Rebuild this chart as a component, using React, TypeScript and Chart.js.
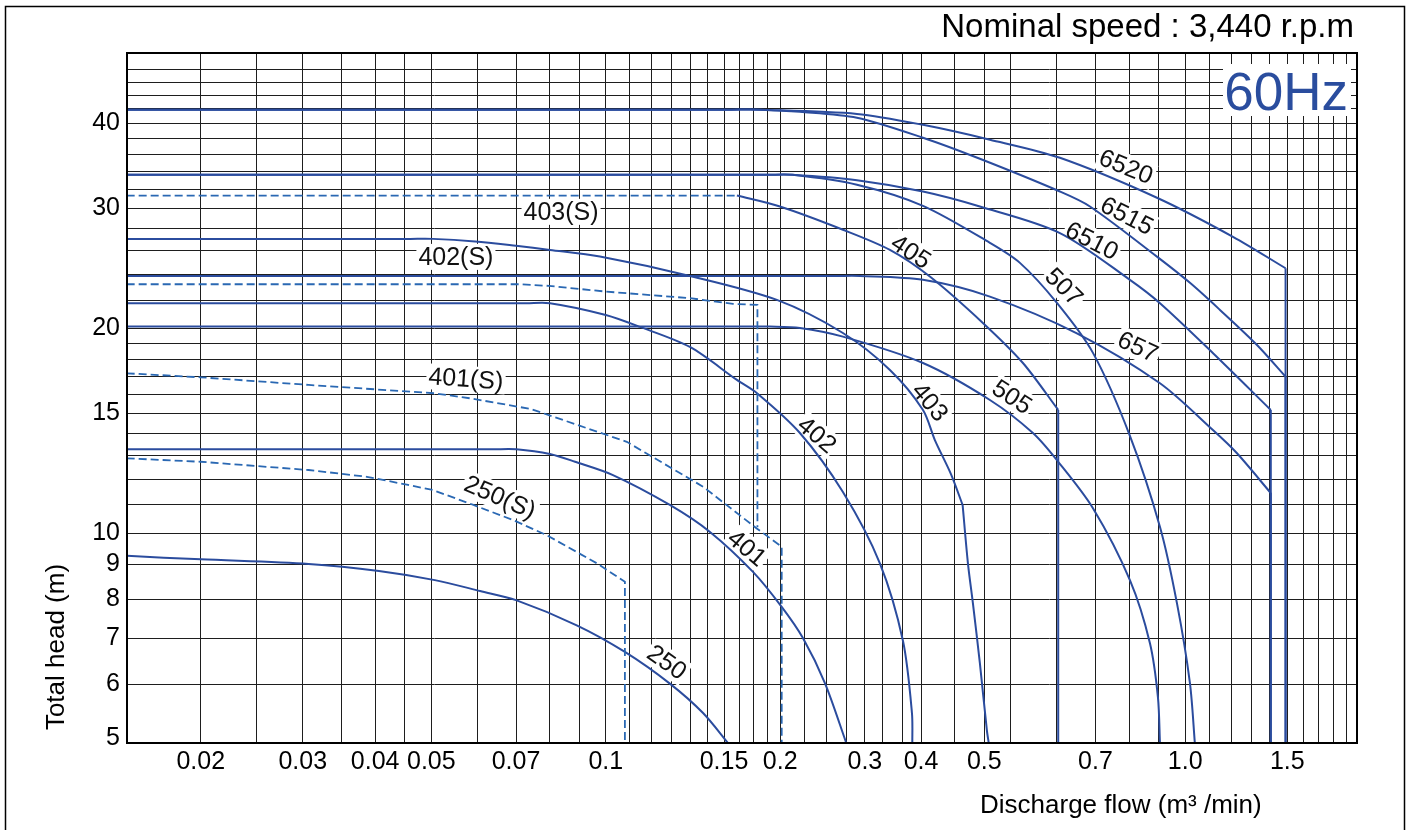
import { useEffect, useRef } from 'react';
import { Chart, registerables } from 'chart.js';

Chart.register(...registerables);

type Pt = [number, number];

// ---- axes (flow in m3/min, head in m) ----
const xMin = 0.01492;
const xMax = 1.979;
const yMin = 4.916;
const yMax = 50.75;

const xGridValues = [
  0.02, 0.025, 0.03, 0.035, 0.04, 0.045, 0.05, 0.06, 0.07, 0.08, 0.09,
  0.1, 0.11, 0.12, 0.13, 0.14, 0.15, 0.16, 0.17, 0.18, 0.19,
  0.2, 0.22, 0.24, 0.26, 0.28, 0.3, 0.325, 0.35, 0.4, 0.45, 0.5, 0.6, 0.7, 0.8, 0.9,
  1.0, 1.1, 1.2, 1.3, 1.4, 1.5, 1.6, 1.7, 1.8, 1.9,
];
// tick label texts, placed on the grid lines where the reference prints them
const xTickLabelAt = [0.02, 0.03, 0.04, 0.05, 0.07, 0.1, 0.16, 0.2, 0.28, 0.35, 0.45, 0.7, 1.0, 1.5];
const xTickLabelText = ['0.02', '0.03', '0.04', '0.05', '0.07', '0.1', '0.15', '0.2', '0.3', '0.4', '0.5', '0.7', '1.0', '1.5'];

const yGridValues = [
  5, 6, 7, 8, 9, 10, 11, 12, 13, 14, 15, 16, 17, 18, 19, 20,
  22, 24, 26, 28, 30, 32, 34, 36, 38, 40, 42, 44, 46, 48,
];
const yTickLabelAt = [5, 6, 7, 8, 9, 10, 15, 20, 30, 40];

// ---- pump curves (solid) ----
const c6520: Pt[] = [[0.0149, 41.9], [0.1651, 41.9], [0.1845, 41.9], [0.2713, 41.3], [0.3527, 39.8], [0.4602, 37.85], [0.6078, 35.6], [0.8937, 31.1], [1.209, 27.25], [1.49, 24.5]];
const c6520Drop: Pt[] = [[1.49, 24.5], [1.49, 4.9]];
const c6515: Pt[] = [[0.0149, 41.9], [0.1651, 41.9], [0.1845, 41.9], [0.2163, 41.6], [0.2713, 40.77], [0.3527, 38.1], [0.4422, 35.48], [0.6078, 31.76], [0.6849, 30.19], [0.8937, 25.48], [1.019, 23.32], [1.148, 21.28], [1.33, 18.9], [1.49, 16.98]];
const c6515Drop: Pt[] = [[1.49, 16.98], [1.49, 4.9]];
const c6510: Pt[] = [[0.0149, 33.61], [0.19, 33.61], [0.21, 33.61], [0.2713, 33.0], [0.3527, 31.76], [0.4422, 30.19], [0.6078, 27.6], [0.8027, 23.56], [0.9046, 21.77], [1.117, 18.38], [1.405, 15.17]];
const c6510Drop: Pt[] = [[1.405, 15.17], [1.405, 4.9]];
const c507: Pt[] = [[0.0149, 33.61], [0.19, 33.61], [0.21, 33.61], [0.2713, 32.5], [0.3527, 30.26], [0.4602, 26.7], [0.5185, 24.95], [0.6006, 21.79], [0.6931, 18.4], [0.8027, 13.9], [0.9046, 10.21], [0.9676, 7.89], [1.0189, 6.02], [1.0393, 4.9]];
const c657: Pt[] = [[0.0149, 23.87], [0.2495, 23.87], [0.2746, 23.87], [0.3527, 23.56], [0.4602, 22.26], [0.6502, 19.66], [0.9046, 16.6], [1.1163, 14.17], [1.2284, 13.1], [1.405, 11.45]];
const c657Drop: Pt[] = [[1.405, 11.45], [1.405, 4.9]];
const c405: Pt[] = [[0.1684, 31.33], [0.1998, 30.19], [0.2566, 27.91], [0.3093, 26.07], [0.3625, 23.82], [0.4475, 20.36], [0.5247, 17.78], [0.6037, 15.17]];
const c405Drop: Pt[] = [[0.6037, 15.17], [0.6037, 4.9]];
const c505: Pt[] = [[0.0149, 20.11], [0.175, 20.11], [0.192, 20.11], [0.2163, 20.02], [0.2566, 19.44], [0.3527, 17.78], [0.4602, 15.69], [0.546, 14.03], [0.6037, 12.73], [0.6931, 10.88], [0.8027, 8.53], [0.8692, 6.89], [0.8972, 5.74], [0.9046, 4.9]];
const c403Upper: Pt[] = [[0.0149, 27.06], [0.046, 27.06], [0.0503, 27.06], [0.0595, 26.82], [0.07, 26.43], [0.0801, 26.07], [0.0977, 25.49], [0.1397, 23.87], [0.1974, 22.01], [0.2566, 19.68], [0.3093, 17.37], [0.3527, 15.17], [0.3698, 13.7], [0.3942, 12.21], [0.4129, 11.0]];
const c403Lower: Pt[] = [[0.4129, 11.0], [0.4217, 9.03], [0.4301, 7.89], [0.4422, 6.44], [0.4547, 5.13], [0.4583, 4.9]];
const c402: Pt[] = [[0.0149, 21.77], [0.073, 21.77], [0.0801, 21.77], [0.1, 20.92], [0.1146, 20.09], [0.1397, 18.77], [0.1684, 16.79], [0.1824, 16.05], [0.2163, 14.03], [0.2566, 11.49], [0.2972, 9.03], [0.3258, 6.94], [0.3376, 5.44], [0.3381, 4.9]];
const c401: Pt[] = [[0.0149, 13.28], [0.064, 13.28], [0.0701, 13.28], [0.0801, 13.07], [0.0885, 12.73], [0.1029, 12.17], [0.129, 11.0], [0.1513, 10.04], [0.1795, 8.77], [0.2012, 7.79], [0.2189, 7.01], [0.2389, 6.02], [0.2604, 4.9]];
const c250: Pt[] = [[0.0149, 9.26], [0.02, 9.15], [0.0307, 9.01], [0.0406, 8.8], [0.0507, 8.53], [0.0607, 8.22], [0.07, 7.97], [0.0891, 7.32], [0.1079, 6.69], [0.129, 6.01], [0.1472, 5.44], [0.163, 4.9]];

// ---- (S) curves (dashed) ----
const c403S: Pt[] = [[0.0149, 31.33], [0.1684, 31.33]];
const c402S: Pt[] = [[0.0149, 23.21], [0.071, 23.21], [0.0798, 23.08], [0.1, 22.64], [0.1397, 22.14], [0.1658, 21.72], [0.1827, 21.64], [0.1827, 10.2]];
const c401S: Pt[] = [[0.0149, 17.17], [0.02, 16.94], [0.0307, 16.51], [0.0506, 16.05], [0.0583, 15.78], [0.0742, 15.22], [0.1087, 13.62], [0.1472, 11.7], [0.1822, 10.16], [0.2012, 9.55], [0.2012, 4.9]];
const c250S: Pt[] = [[0.0149, 12.88], [0.02, 12.73], [0.0307, 12.38], [0.0387, 12.1], [0.0456, 11.77], [0.0503, 11.57], [0.0591, 11.0], [0.0692, 10.45], [0.0791, 9.93], [0.0965, 9.03], [0.1079, 8.48], [0.1079, 4.9]];

// ---- curve name labels (anchor in data units) ----
const curveLabelText = ['6520', '6515', '6510', '405', '507', '657', '403', '505', '402', '401', '250', '403(S)', '402(S)', '401(S)', '250(S)'];
const curveLabelQ = [0.7902, 0.7933, 0.6902, 0.3362, 0.6175, 0.8286, 0.3625, 0.5024, 0.2314, 0.1752, 0.1275, 0.08372, 0.05513, 0.05736, 0.06569];
const curveLabelH = [34.53, 29.25, 26.88, 25.9, 23.0, 18.77, 15.58, 15.85, 13.94, 9.505, 6.46, 29.65, 25.46, 16.85, 11.29];

// styles
const labelAngle: Record<string, number> = {
  '6520': 22, '6515': 27, '6510': 27, '405': 33, '507': 45, '657': 25, '403': 50,
  '505': 33, '402': 40, '401': 40, '250': 35, '403(S)': 0, '402(S)': 0, '401(S)': 4, '250(S)': 23,
};
const SOLID = '#2b4c9e';
const DASH = '#2a68b3';
const FONT = '"Liberation Sans", Arial, Helvetica, sans-serif';

const solidCurves: Pt[][] = [c6520, c6515, c6510, c507, c657, c405, c505, c403Upper, c403Lower, c402, c401, c250];
const dropLines: Pt[][] = [c6520Drop, c6515Drop, c6510Drop, c657Drop, c405Drop];
const dashedCurves: Pt[][] = [c403S, c402S, c401S, c250S];

const near = (a: number, b: number) => Math.abs(a - b) < 1e-9;

export default function App() {
  const ref = useRef<HTMLCanvasElement>(null);

  useEffect(() => {
    const canvas = ref.current;
    if (!canvas) return;

    const toData = (pts: Pt[]) => pts.map(([x, y]) => ({ x, y }));
    const datasets: any[] = [];
    dashedCurves.forEach((pts) =>
      datasets.push({
        data: toData(pts), borderColor: DASH, borderWidth: 1.8, borderDash: [8, 4],
        pointRadius: 0, tension: 0, fill: false,
      }),
    );
    solidCurves.forEach((pts) =>
      datasets.push({
        data: toData(pts), borderColor: SOLID, borderWidth: 2, pointRadius: 0,
        tension: 0.3, fill: false,
      }),
    );
    dropLines.forEach((pts) =>
      datasets.push({
        data: toData(pts), borderColor: SOLID, borderWidth: 2, pointRadius: 0, tension: 0, fill: false,
      }),
    );

    const labelFont = `25px ${FONT}`;

    const decor = {
      id: 'decor',
      beforeDraw(chart: any) {
        const { ctx, width, height } = chart;
        ctx.save();
        ctx.fillStyle = '#fff';
        ctx.fillRect(0, 0, width, height);
        ctx.restore();
      },
      beforeDatasetsDraw(chart: any) {
        const { ctx, scales } = chart;
        ctx.save();
        ctx.font = labelFont;
        ctx.fillStyle = '#fff';
        curveLabelText.forEach((t, i) => {
          const px = scales.x.getPixelForValue(curveLabelQ[i]);
          const py = scales.y.getPixelForValue(curveLabelH[i]);
          const w = ctx.measureText(t).width + 4;
          ctx.save();
          ctx.translate(px, py);
          ctx.rotate((labelAngle[t] * Math.PI) / 180);
          ctx.fillRect(-w / 2, -13, w, 26);
          ctx.restore();
        });
        // 60Hz box
        ctx.fillRect(1223, 64, 128, 52);
        ctx.restore();
      },
      afterDatasetsDraw(chart: any) {
        const { ctx, scales, chartArea } = chart;
        ctx.save();
        // curve labels
        ctx.font = labelFont;
        ctx.fillStyle = '#111';
        ctx.textAlign = 'center';
        ctx.textBaseline = 'middle';
        curveLabelText.forEach((t, i) => {
          const px = scales.x.getPixelForValue(curveLabelQ[i]);
          const py = scales.y.getPixelForValue(curveLabelH[i]);
          ctx.save();
          ctx.translate(px, py);
          ctx.rotate((labelAngle[t] * Math.PI) / 180);
          ctx.fillText(t, 0, 1);
          ctx.restore();
        });
        // plot frame
        ctx.strokeStyle = '#000';
        ctx.lineWidth = 2;
        ctx.strokeRect(chartArea.left, chartArea.top, chartArea.right - chartArea.left, chartArea.bottom - chartArea.top);
        // outer frame
        ctx.lineWidth = 1.5;
        ctx.strokeRect(5.5, 6.5, 1399, 900);
        // 60Hz
        ctx.font = `53px ${FONT}`;
        ctx.fillStyle = '#2a4d9e';
        ctx.textAlign = 'right';
        ctx.textBaseline = 'alphabetic';
        ctx.fillText('60Hz', 1348, 110);
        // speed
        ctx.font = `33px ${FONT}`;
        ctx.fillStyle = '#000';
        ctx.fillText('Nominal speed : 3,440 r.p.m', 1354, 37);
        // axis titles
        ctx.font = `26px ${FONT}`;
        ctx.textAlign = 'left';
        ctx.fillText('Discharge flow (m\u00B3 /min)', 980, 813);
        ctx.save();
        ctx.translate(64, 647);
        ctx.rotate(-Math.PI / 2);
        ctx.textAlign = 'center';
        ctx.fillText('Total head (m)', 0, 0);
        ctx.restore();
        ctx.restore();
      },
    };

    const chart = new Chart(canvas, {
      type: 'line',
      data: { datasets },
      options: {
        responsive: false,
        animation: false,
        events: [],
        layout: { padding: { left: 0, right: 55, top: 53, bottom: 0 } },
        plugins: { legend: { display: false }, tooltip: { enabled: false }, title: { display: false } },
        scales: {
          x: {
            type: 'logarithmic',
            min: xMin,
            max: xMax,
            bounds: 'data',
            afterBuildTicks: (s: any) => { s.ticks = xGridValues.map((v) => ({ value: v })); },
            afterFit: (s: any) => { s.height = 87; },
            grid: { color: '#1e1e1e', lineWidth: 1, drawTicks: false },
            border: { display: false },
            ticks: {
              autoSkip: false, maxRotation: 0, minRotation: 0, padding: 4, color: '#000',
              font: { family: FONT, size: 25 },
              callback: (v: any) => {
                const i = xTickLabelAt.findIndex((a) => near(a, Number(v)));
                return i >= 0 ? xTickLabelText[i] : '';
              },
            },
          },
          y: {
            type: 'logarithmic',
            min: yMin,
            max: yMax,
            bounds: 'data',
            afterBuildTicks: (s: any) => { s.ticks = yGridValues.map((v) => ({ value: v })); },
            afterFit: (s: any) => { s.width = 127; },
            grid: {
              color: (c: any) => (c.tick && near(c.tick.value, 5) ? 'rgba(0,0,0,0)' : '#1e1e1e'),
              lineWidth: 1, drawTicks: false,
            },
            border: { display: false },
            ticks: {
              autoSkip: false, padding: 7, color: '#000',
              font: { family: FONT, size: 25 },
              callback: (v: any) => (yTickLabelAt.some((a) => near(a, Number(v))) ? String(v) : ''),
            },
          },
        },
      } as any,
      plugins: [decor],
    });

    return () => chart.destroy();
  }, []);

  return (
    <div style={{ position: 'absolute', left: 0, top: 0, width: 1412, height: 830 }}>
      <canvas ref={ref} width={1412} height={830} style={{ display: 'block' }} />
    </div>
  );
}
